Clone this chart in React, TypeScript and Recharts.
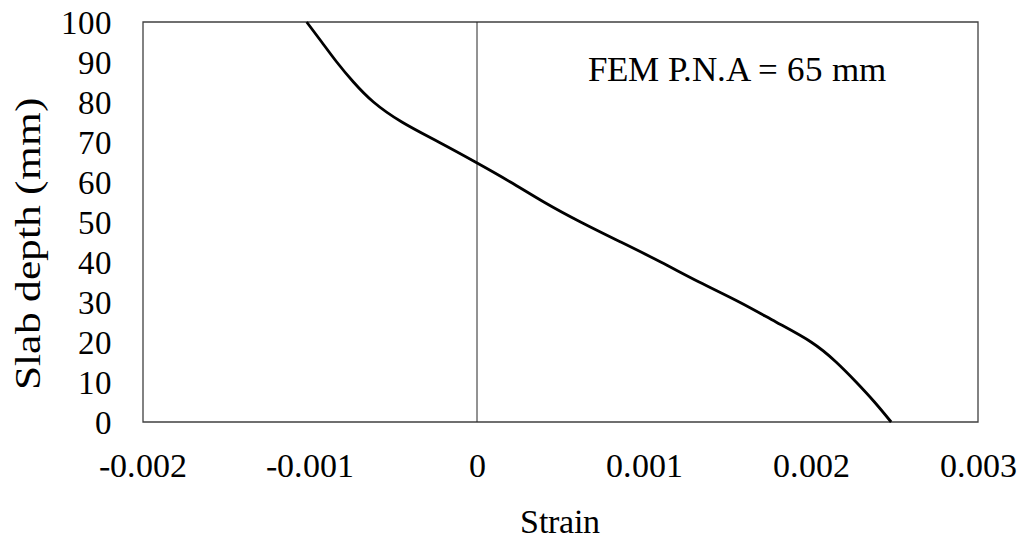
import { LineChart, Line, XAxis, YAxis, ReferenceLine, ReferenceArea } from 'recharts';

const depths = [0, 5, 10, 15, 20, 25, 30, 35, 40, 45, 50, 55, 60, 65, 70, 75, 80, 85, 90, 95, 100];
const strains = [
  0.00248, 0.00238, 0.00227, 0.00215, 0.002, 0.00179, 0.00157, 0.00133, 0.0011, 0.00086,
  0.00062, 0.0004, 0.0002, -0.00001, -0.00023, -0.00045, -0.00062, -0.00074, -0.00084, -0.00093, -0.00102,
];

const strainTicks = [-0.002, -0.001, 0, 0.001, 0.002, 0.003];
const depthTicks = [0, 10, 20, 30, 40, 50, 60, 70, 80, 90, 100];

const data = depths.map((d, i) => ({ depth: d, strain: strains[i] }));

const FONT = 'ChartSerif, "Liberation Serif", "Times New Roman", serif';

const FONT_CSS = `
@font-face {
  font-family: 'ChartSerif';
  src: local('Liberation Serif'), local('LiberationSerif'), local('LiberationSerif-Regular'), local('Times New Roman'), local('DejaVu Serif');
}
svg text, svg tspan { font-family: ${FONT}; }
`;

// axis titles + note, drawn as plain svg text at fixed spots
const Texts = () => (
  <g>
    <text x={560} y={533} textAnchor="middle" fontSize={34} fill="#000" fontFamily={FONT}>
      Strain
    </text>
    <text
      x={28}
      y={244}
      transform="rotate(-90 28 244)"
      textAnchor="middle"
      dominantBaseline="central"
      fontSize={36}
      textLength={292}
      lengthAdjust="spacingAndGlyphs"
      fill="#000"
      fontFamily={FONT}
    >
      Slab depth (mm)
    </text>
    <text x={588} y={81} fontSize={35} fill="#000" fontFamily={FONT}>
      FEM P.N.A = 65 mm
    </text>
  </g>
);

export default function App() {
  return (
    <div style={{ position: 'absolute', left: 0, top: 0, background: '#fff', fontFamily: FONT }}>
      <style>{FONT_CSS}</style>
      <LineChart
        width={1022}
        height={544}
        data={data}
        layout="vertical"
        margin={{ top: 22, right: 44, bottom: 0, left: 0 }}
      >
        <XAxis
          type="number"
          dataKey="strain"
          domain={[-0.002, 0.003]}
          ticks={strainTicks}
          interval={0}
          axisLine={false}
          tickLine={false}
          tickSize={0}
          tickMargin={31}
          height={122}
          tick={{ fontSize: 34, fill: '#000', fontFamily: FONT }}
        />
        <YAxis
          type="number"
          dataKey="depth"
          domain={[0, 100]}
          ticks={depthTicks}
          interval={0}
          reversed
          axisLine={false}
          tickLine={false}
          tickSize={0}
          tickMargin={31}
          width={143}
          tick={{ fontSize: 33, fill: '#000', fontFamily: FONT }}
        />
        <ReferenceArea
          x1={-0.002}
          x2={0.003}
          y1={0}
          y2={100}
          fill="#fff"
          fillOpacity={0}
          stroke="#404040"
          strokeWidth={1.3}
          label={<Texts />}
        />
        <ReferenceLine x={0} stroke="#262626" strokeWidth={1} />
        <Line
          type="natural"
          dataKey="strain"
          stroke="#000"
          strokeWidth={2.8}
          dot={false}
          isAnimationActive={false}
        />
      </LineChart>
    </div>
  );
}
